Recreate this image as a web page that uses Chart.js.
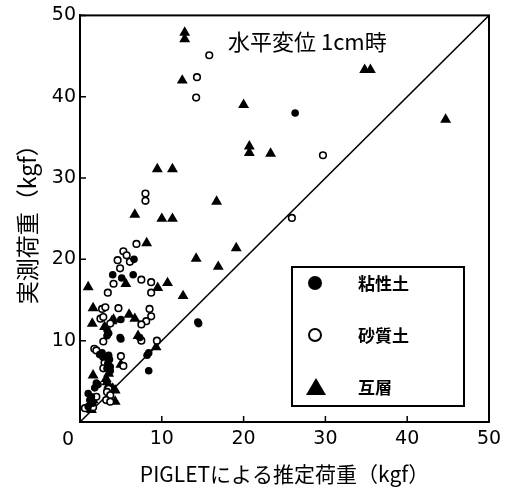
<!DOCTYPE html>
<html>
<head>
<meta charset="utf-8">
<script src="https://cdn.jsdelivr.net/npm/chart.js@4"></script>
<style>
  body { margin: 0; background: #fff; }
  canvas { display: block; }
</style>
</head>
<body>
<canvas id="myChart" width="508" height="489"></canvas>
<script>
'use strict';

// series names
let seriesNames = ['粘性土', '砂質土', '互層'];

// 粘性土 (filled circle) [x, y]
let clayPoints = [
  [26.3, 38.0], [14.4, 12.3], [14.5, 12.1], [6.6, 20.0], [4.0, 18.1], [5.1, 17.7],
  [6.5, 18.1], [5.0, 12.6], [3.5, 10.9], [3.3, 10.6], [4.9, 10.4], [5.0, 10.2],
  [7.3, 10.4], [8.2, 8.2], [8.4, 8.5], [8.4, 6.3], [2.4, 8.3], [2.7, 8.5],
  [2.8, 8.0], [3.2, 8.0], [3.5, 8.2], [3.6, 7.7], [3.4, 7.2], [3.7, 6.8],
  [3.3, 6.6], [3.7, 6.3], [2.0, 4.8], [1.8, 4.2], [2.2, 4.6], [1.0, 3.5],
  [1.4, 3.1], [1.2, 2.7], [1.55, 2.3], [1.0, 1.9], [3.3, 11.3]
];

// 砂質土 (open circle) [x, y]
let sandPoints = [
  [15.8, 45.1], [14.3, 42.4], [14.2, 39.9], [8.0, 28.1], [8.0, 27.2], [29.7, 32.8],
  [25.9, 25.1], [6.9, 21.9], [5.3, 21.0], [5.7, 20.5], [6.1, 19.7], [4.6, 19.9],
  [4.9, 18.9], [4.1, 17.0], [3.4, 15.9], [7.5, 17.5], [8.7, 17.2], [8.7, 15.9],
  [2.7, 13.9], [3.1, 14.1], [4.7, 14.0], [8.5, 13.9], [8.7, 13.0], [8.1, 12.4],
  [7.5, 12.0], [2.5, 12.7], [2.85, 12.9], [3.7, 12.1], [2.85, 9.9], [7.5, 10.0],
  [9.4, 10.0], [1.75, 9.0], [2.0, 8.8], [5.0, 8.1], [3.0, 7.3], [5.3, 6.9],
  [2.85, 6.6], [3.5, 4.1], [3.3, 3.7], [3.7, 3.3], [3.2, 2.7], [3.7, 2.5],
  [0.6, 1.7], [1.6, 1.8], [2.0, 3.1]
];

// 互層 (filled triangle) [x, y]
let layerPoints = [
  [12.8, 47.9], [12.8, 47.1], [12.5, 42.0], [20.0, 39.0], [20.7, 33.9], [20.7, 33.1],
  [9.45, 31.1], [11.3, 31.1], [16.7, 27.1], [34.8, 43.3], [35.5, 43.3], [44.7, 37.2],
  [23.3, 33.0], [10.0, 25.0], [11.3, 25.0], [6.7, 25.5], [8.15, 22.0], [19.1, 21.4],
  [14.2, 20.1], [16.9, 19.1], [9.5, 16.5], [10.7, 17.1], [12.6, 15.5], [5.6, 17.0],
  [1.0, 16.6], [1.6, 14.0], [6.0, 13.2], [6.7, 12.7], [1.5, 12.1], [4.1, 12.6],
  [3.9, 12.4], [3.0, 11.7], [7.1, 10.6], [9.3, 9.2], [5.0, 7.05], [1.6, 5.75],
  [3.5, 5.95], [3.2, 5.3], [3.3, 4.9], [3.5, 4.5], [4.0, 4.1], [4.3, 3.9],
  [4.3, 2.5], [1.6, 2.7], [1.4, 1.5]
];

// 1:1 line
let diagonal = [[0, 0], [50, 50]];

let xTicks = [0, 10, 20, 30, 40, 50];
let yTicks = [0, 10, 20, 30, 40, 50];

let chartTitle = '水平変位 1cm時';
let xTitle = 'PIGLETによる推定荷重（kgf）';
let yTitle = '実測荷重（kgf）';

function toXY(arr) {
  return arr.map(p => ({x: p[0], y: p[1]}));
}

// the origin "0" is shared by both axes, drawn once at the corner
function hideZero(value) {
  return value === 0 ? '' : String(value);
}

let cjk = '"Noto Sans CJK JP", sans-serif';

// frame, inward ticks, title text and legend box
let extras = {
  id: 'extras',
  afterDraw(chart) {
    let ctx = chart.ctx;
    let a = chart.chartArea;
    let xs = chart.scales.x;
    let ys = chart.scales.y;
    ctx.save();
    ctx.strokeStyle = '#000';
    ctx.lineWidth = 2;
    ctx.strokeRect(a.left, a.top, a.right - a.left, a.bottom - a.top);

    ctx.lineWidth = 1.5;
    ctx.beginPath();
    xTicks.forEach(v => {
      let px = xs.getPixelForValue(v);
      ctx.moveTo(px, a.bottom);
      ctx.lineTo(px, a.bottom - 6);
    });
    yTicks.forEach(v => {
      let py = ys.getPixelForValue(v);
      ctx.moveTo(a.left, py);
      ctx.lineTo(a.left + 6, py);
    });
    ctx.stroke();

    ctx.fillStyle = '#000';
    ctx.font = '19px "DejaVu Sans"';
    ctx.textAlign = 'center';
    ctx.textBaseline = 'middle';
    ctx.fillText(String(xTicks[0]), a.left - 12, a.bottom + 18);

    ctx.font = '22px ' + cjk;
    ctx.textAlign = 'left';
    ctx.fillText(chartTitle, 228, 42);

    // legend
    ctx.lineWidth = 2;
    ctx.strokeRect(292, 267, 172, 139);
    let rows = [283, 335, 387];
    ctx.font = 'bold 17px ' + cjk;
    chart.data.datasets.slice(0, 3).forEach((ds, i) => {
      let cy = rows[i];
      ctx.beginPath();
      if (ds.pointStyle === 'triangle') {
        ctx.moveTo(316, cy - 9);
        ctx.lineTo(326, cy + 8);
        ctx.lineTo(306, cy + 8);
        ctx.closePath();
        ctx.fillStyle = '#000';
        ctx.fill();
      } else if (ds.pointBackgroundColor === '#000') {
        ctx.arc(315, cy, 7, 0, Math.PI * 2);
        ctx.fillStyle = '#000';
        ctx.fill();
      } else {
        ctx.arc(315, cy, 6, 0, Math.PI * 2);
        ctx.lineWidth = 2;
        ctx.stroke();
      }
      ctx.fillStyle = '#000';
      ctx.fillText(ds.label, 358, cy + 1);
    });
    ctx.restore();
  }
};

let ctx = document.getElementById('myChart');
new Chart(ctx, {
  type: 'scatter',
  data: {
    datasets: [
      {
        label: seriesNames[0],
        data: toXY(clayPoints),
        pointStyle: 'circle',
        pointRadius: 3.8,
        pointBackgroundColor: '#000',
        pointBorderColor: '#000',
        pointBorderWidth: 0
      },
      {
        label: seriesNames[1],
        data: toXY(sandPoints),
        pointStyle: 'circle',
        pointRadius: 3.3,
        pointBackgroundColor: '#fff',
        pointBorderColor: '#000',
        pointBorderWidth: 1.6
      },
      {
        label: seriesNames[2],
        data: toXY(layerPoints),
        pointStyle: 'triangle',
        pointRadius: 6.3,
        pointBackgroundColor: '#000',
        pointBorderColor: '#000',
        pointBorderWidth: 0
      },
      {
        type: 'line',
        label: '1:1',
        data: toXY(diagonal),
        borderColor: '#000',
        borderWidth: 1.5,
        pointRadius: 0,
        fill: false
      }
    ]
  },
  options: {
    responsive: false,
    animation: false,
    layout: {padding: {left: 0, right: 19, top: 13, bottom: 0}},
    plugins: {
      legend: {display: false},
      tooltip: {enabled: false}
    },
    scales: {
      x: {
        type: 'linear',
        min: 0,
        max: 50,
        afterFit(scale) { scale.height = 67; },
        afterBuildTicks(scale) { scale.ticks = xTicks.map(v => ({value: v})); },
        grid: {display: false, drawTicks: false},
        border: {display: true, color: '#000', width: 2},
        ticks: {color: '#000', padding: 6, maxRotation: 0, callback: hideZero, font: {family: 'DejaVu Sans', size: 19}},
        title: {
          display: true,
          text: xTitle,
          color: '#000',
          padding: {top: 0, bottom: 2},
          font: {family: 'Noto Sans CJK JP', size: 21}
        }
      },
      y: {
        type: 'linear',
        min: 0,
        max: 50,
        afterFit(scale) { scale.width = 80; },
        afterBuildTicks(scale) { scale.ticks = yTicks.map(v => ({value: v})); },
        grid: {display: false, drawTicks: false},
        border: {display: true, color: '#000', width: 2},
        ticks: {color: '#000', padding: 4, callback: hideZero, font: {family: 'DejaVu Sans', size: 19}},
        title: {
          display: true,
          text: yTitle,
          color: '#000',
          padding: {top: 13, bottom: 0},
          font: {family: 'Noto Sans CJK JP', size: 23}
        }
      }
    }
  },
  plugins: [extras]
});
</script>
</body>
</html>
